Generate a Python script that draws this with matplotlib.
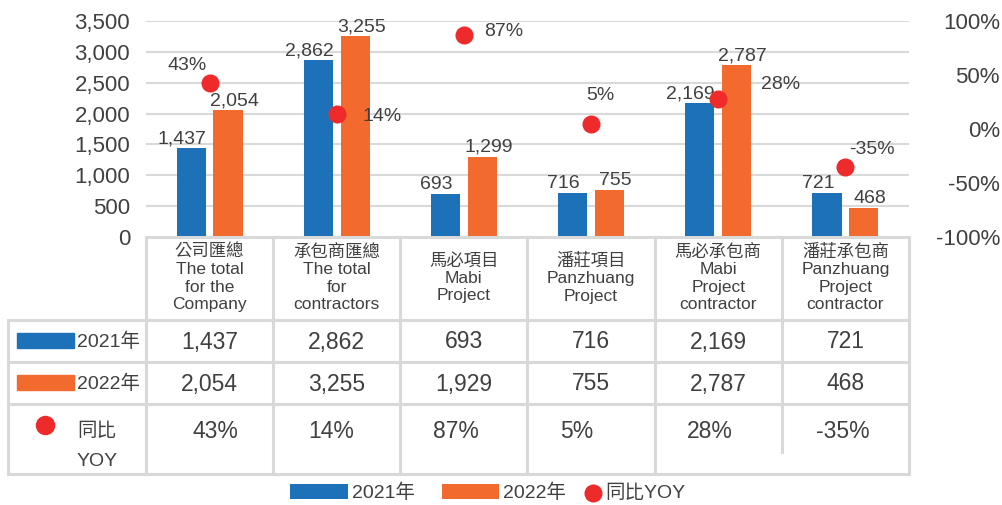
import numpy as np
import matplotlib.pyplot as plt
from matplotlib.transforms import blended_transform_factory
from matplotlib.lines import Line2D
from matplotlib.patches import Rectangle
from matplotlib.ticker import FuncFormatter

plt.rcParams['font.family'] = ['Liberation Sans', 'Noto Sans CJK TC']

# data
categories = ['公司匯總\nThe total\nfor the\nCompany',
              '承包商匯總\nThe total\nfor\ncontractors',
              '馬必項目\nMabi\nProject',
              '潘莊項目\nPanzhuang\nProject',
              '馬必承包商\nMabi\nProject\ncontractor',
              '潘莊承包商\nPanzhuang\nProject\ncontractor']
values_2021 = [1437, 2862, 693, 716, 2169, 721]
values_2022 = [2054, 3255, 1299, 755, 2787, 468]
yoy = [43, 14, 87, 5, 28, -35]
table_2021 = ['1,437', '2,862', '693', '716', '2,169', '721']
table_2022 = ['2,054', '3,255', '1,929', '755', '2,787', '468']
table_yoy = ['43%', '14%', '87%', '5%', '28%', '-35%']
series_names = ['2021年', '2022年', '同比YOY']

# style
BLUE = '#1c71b8'
ORANGE = '#f26a2e'
RED = '#ee2a2a'
TXT = '#404040'
GRID = '#d9d9d9'

W, H = 1003, 505
def fx(px):
    return px / W
def fy(py):
    return 1 - py / H

fig = plt.figure(figsize=(W / 100, H / 100), dpi=100)
ax = fig.add_axes([fx(146), fy(237), fx(909) - fx(146), fy(21) - fy(237)])
ax2 = ax.twinx()

x = np.arange(len(categories))
off, bw = 0.145, 0.23
b1 = ax.bar(x - off, values_2021, bw, color=BLUE, zorder=3)
b2 = ax.bar(x + off, values_2022, bw, color=ORANGE, zorder=3)

for xi, v in zip(x - off, values_2021):
    ax.annotate(f'{v:,}', (xi, v), xytext=(-9, 1), textcoords='offset pixels',
                ha='center', va='bottom', fontsize=14, color=TXT, zorder=4)
for xi, v in zip(x + off, values_2022):
    ax.annotate(f'{v:,}', (xi, v), xytext=(6, 1), textcoords='offset pixels',
                ha='center', va='bottom', fontsize=14, color=TXT, zorder=4)

ax.set_xlim(-0.5, len(categories) - 0.5)
ax.set_ylim(0, 3500)
ax.set_yticks(np.arange(0, 3501, 500))
ax.yaxis.set_major_formatter(FuncFormatter(lambda v, p: f'{v:,.0f}'))
ax.grid(axis='y', color=GRID, lw=1.5, zorder=0)
ax.set_axisbelow(True)
ax.set_xticks([])
ax.tick_params(axis='y', length=0, pad=11.5, labelsize=16, labelcolor=TXT)
for s in ax.spines.values():
    s.set_visible(False)

ax2.set_ylim(-100, 100)
ax2.set_yticks(np.arange(-100, 101, 50))
ax2.yaxis.set_major_formatter(FuncFormatter(lambda v, p: f'{v:.0f}%'))
ax2.tick_params(axis='y', length=0, pad=65.5, labelsize=16, labelcolor=TXT)
for lab in ax2.get_yticklabels():
    lab.set_horizontalalignment('right')
for s in ax2.spines.values():
    s.set_visible(False)

dots = ax2.scatter(x, yoy, s=169, color=RED, zorder=5, linewidths=0)
label_offsets = [(-22, 17), (45, -3), (40, 4), (9, 28), (62, 14), (27, 17)]
for xi, v, o in zip(x, yoy, label_offsets):
    ax2.annotate(f'{v}%', (xi, v), xytext=o, textcoords='offset pixels',
                 ha='center', va='center', fontsize=14, color=TXT, zorder=6)

# data table below the chart
tr = blended_transform_factory(ax.transData, fig.transFigure)
row_y = [237, 320, 362, 404, 474]
line_kw = dict(color=GRID, lw=2.2, zorder=1)
for i in range(len(categories) + 1):
    bottom = 452 if i == len(categories) - 1 else row_y[-1]
    fig.add_artist(Line2D([i - 0.5, i - 0.5], [fy(row_y[0]), fy(bottom)], transform=tr, **line_kw))
fig.add_artist(Line2D([-0.5, len(categories) - 0.5], [fy(row_y[0])] * 2, transform=tr, **line_kw))
for ry in row_y[1:]:
    fig.add_artist(Line2D([fx(8), fx(909)], [fy(ry)] * 2, transform=fig.transFigure, **line_kw))
fig.add_artist(Line2D([fx(8), fx(8)], [fy(row_y[1]), fy(row_y[-1])], transform=fig.transFigure, **line_kw))

yoy_shift = [6, -6, -8, -14, -8, -3]   # pixel nudges of the YOY row text
for i, c in enumerate(categories):
    fig.text(i, fy(278), c, transform=tr, ha='center', va='center', fontsize=12.5,
             color=TXT, linespacing=1.2)
    fig.text(i, fy(342), table_2021[i], transform=tr, ha='center', va='center', fontsize=16.5, color=TXT)
    fig.text(i, fy(384), table_2022[i], transform=tr, ha='center', va='center', fontsize=16.5, color=TXT)
    fig.text(i + yoy_shift[i] / 127.2, fy(432), table_yoy[i], transform=tr, ha='center',
             va='center', fontsize=16.5, color=TXT)

# row headers
fig.add_artist(Rectangle((fx(17), fy(348)), fx(74) - fx(17), fy(333) - fy(348),
                         transform=fig.transFigure, color=BLUE))
fig.add_artist(Rectangle((fx(17), fy(390)), fx(74) - fx(17), fy(375) - fy(390),
                         transform=fig.transFigure, color=ORANGE))
fig.text(fx(77), fy(342), series_names[0], ha='left', va='center', fontsize=14, color=TXT)
fig.text(fx(77), fy(384), series_names[1], ha='left', va='center', fontsize=14, color=TXT)
fig.add_artist(Line2D([fx(45)], [fy(425)], marker='o', markersize=13, color=RED,
                      transform=fig.transFigure, linestyle='none'))
fig.text(fx(97), fy(431), '同比', ha='center', va='center', fontsize=14, color=TXT)
fig.text(fx(97), fy(461), 'YOY', ha='center', va='center', fontsize=14, color=TXT)

# legend: bars and dot in two pieces so the dot key stays narrow
fig.legend([b1, b2], series_names[:2], loc='center right', bbox_to_anchor=(fx(566), fy(493)),
           ncol=2, frameon=False, fontsize=14, handlelength=2.95, handleheight=0.8,
           handletextpad=0.2, columnspacing=1.4, labelcolor=TXT, borderpad=0, borderaxespad=0)
fig.legend([dots], series_names[2:], loc='center left', bbox_to_anchor=(fx(584), fy(493)),
           frameon=False, fontsize=14, handlelength=0.9, handletextpad=0.2, labelcolor=TXT,
           borderpad=0, borderaxespad=0)

fig.savefig('out.png', dpi=100)
